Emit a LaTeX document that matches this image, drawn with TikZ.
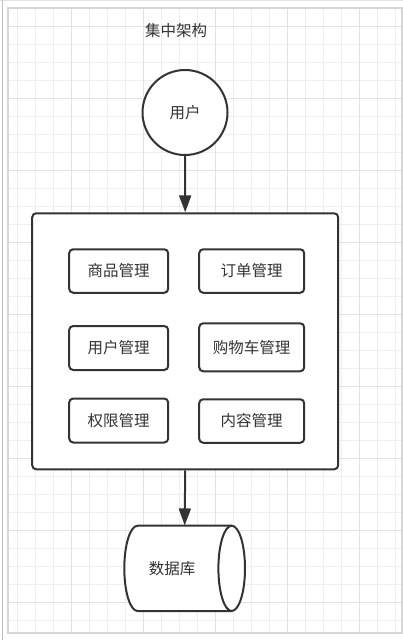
\documentclass[tikz,border=0pt]{standalone}
\usepackage{fontspec}
\newfontfamily\cjk{Noto Sans CJK SC}
\usetikzlibrary{arrows.meta}
\definecolor{ink}{HTML}{333333}
\definecolor{gridminor}{HTML}{EEEEEE}
\definecolor{gridmajor}{HTML}{E2E2E2}
\definecolor{framecol}{HTML}{D6D6D6}
\tikzset{
  every node/.style={font=\cjk\fontsize{15.5}{18}\selectfont, text=ink},
  modbox/.style={draw=ink, line width=2pt, rounded corners=4pt, fill=white, inner sep=0pt},
  conn/.style={draw=ink, line width=2pt, -{Triangle[length=17pt, width=12pt]}},
}
\begin{document}
\begin{tikzpicture}[x=1pt, y=-1pt]
\useasboundingbox (0,0) rectangle (403,640);
\fill[white] (0,0) rectangle (403,640);
% grid
\begin{scope}
\clip (8,8) rectangle (402,633);
\foreach \i in {1,...,22} {\draw[gridminor, line width=1pt] (18*\i-0.3,8) -- (18*\i-0.3,633);}
\foreach \i in {0,...,35} {\draw[gridminor, line width=1pt] (8,8.5+18*\i) -- (402,8.5+18*\i);}
\foreach \i in {1,...,5} {\draw[gridmajor, line width=1pt] (72*\i-0.3,8) -- (72*\i-0.3,633);}
\foreach \i in {0,...,8} {\draw[gridmajor, line width=1pt] (8,26.5+72*\i) -- (402,26.5+72*\i);}
\end{scope}
\draw[framecol, line width=2pt] (8,8) rectangle (402,633);
\draw[gridmajor, line width=1pt] (0,0.5) -- (403,0.5);
\draw[black!25, line width=1.5pt] (2.5,0) -- (2.5,640);

% title
\node (title) at (176,31) {集中架构};

% user circle
\node[circle, draw=ink, line width=2pt, fill=white, minimum size=85pt, inner sep=0pt] (user) at (185,112.5) {用户};

% main box
\node[modbox, minimum width=306pt, minimum height=256pt] (main) at (185.2,341.3) {};

% modules
\node[modbox, minimum width=99pt, minimum height=43.5pt] (m1) at (118.7,271) {商品管理};
\node[modbox, minimum width=105pt, minimum height=43.5pt] (m2) at (251.7,271) {订单管理};
\node[modbox, minimum width=99pt, minimum height=44pt] (m3) at (118.7,348) {用户管理};
\node[modbox, minimum width=105pt, minimum height=48pt] (m4) at (251.7,347.3) {购物车管理};
\node[modbox, minimum width=99pt, minimum height=44pt] (m5) at (118.7,420.5) {权限管理};
\node[modbox, minimum width=105pt, minimum height=43.5pt] (m6) at (251.7,421) {内容管理};

% database cylinder (bounding node)
\node[minimum width=120.7pt, minimum height=85.3pt, inner sep=0pt] (db) at (184.7,568.3) {};
\draw[ink, line width=2pt, fill=white]
  (231.7,525.7) -- (137.6,525.7)
  arc[start angle=90, end angle=270, x radius=13.3, y radius=-42.65]
  -- (231.7,611) ;
\draw[ink, line width=2pt, fill=white] (231.7,568.35) ellipse[x radius=13.3, y radius=42.65];
\node (dbt) at (172,569) {数据库};

% connectors
\draw[conn] (user.south) -- (main.north);
\draw[conn] (main.south) -- (db.north);
\end{tikzpicture}
\end{document}
